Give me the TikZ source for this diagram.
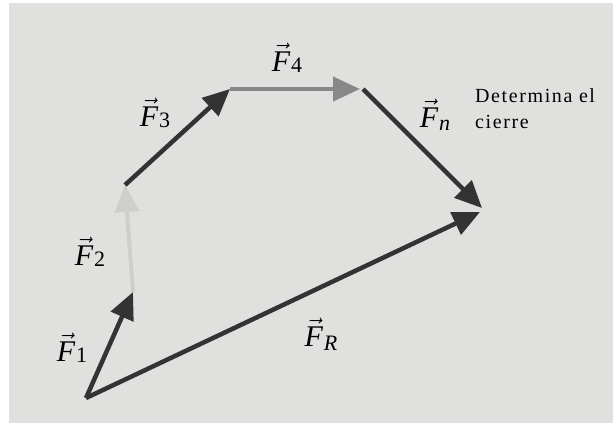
\RequirePackage{fix-cm}
\documentclass[tikz,border=0pt]{standalone}
\usepackage{fontspec}
\usepackage{amsmath}
\usetikzlibrary{arrows.meta}
\newfontfamily\notefont[LetterSpace=8]{Liberation Serif}
\newfontfamily\forcefont{Liberation Serif}
\newcommand{\fvec}[2][2pt]{$\vec{\hbox{\itshape F}}$\kern1pt
  \raisebox{-#1}{\fontsize{22}{22}\selectfont #2}}
\definecolor{panel}{RGB}{224,224,222}
\definecolor{dark}{RGB}{51,51,51}
\definecolor{mid}{RGB}{136,136,136}
\definecolor{pale}{RGB}{206,206,204}

\begin{document}
\begin{tikzpicture}[x=1pt, y=-1pt,
  force/.style={line width=4.5pt, color=dark,
    -{Triangle[length=27pt, width=24pt]}},
  flabel/.style={inner sep=0pt, font=\forcefont\fontsize{30}{32}\selectfont},
  note/.style={inner sep=0pt, align=left, anchor=base west,
    font=\notefont\fontsize{20}{26}\selectfont}]
\useasboundingbox[fill=white] (0,0) rectangle (616,425);
\fill[panel] (9,3) rectangle (613,423);
% polygon vertices
\coordinate (o) at (86,398);
\coordinate (p1) at (133,292);
\coordinate (p2) at (125,185);
\coordinate (p3) at (230,89);
\coordinate (p4) at (360,89);
\coordinate (p4s) at (363,89);
\coordinate (pn) at (482,208);
\coordinate (pr) at (480,212);
% forces
\draw[force] (o) -- (p1);
\draw[force, color=pale, line width=4pt] (p1) -- (p2);
\draw[force] (p2) -- (p3);
\draw[force, color=mid, line width=4pt] (p3) -- (p4);
\draw[force] (p4s) -- (pn);
\draw[force] (o) -- (pr);
% labels
\node[flabel] (f1) at (72,348) {\fvec[1pt]{1}};
\node[flabel] (f2) at (90,252) {\fvec[1pt]{2}};
\node[flabel] (f3) at (155,113) {\fvec[1pt]{3}};
\node[flabel] (f4) at (287,58) {\fvec[1pt]{4}};
\node[flabel] (fn) at (435,115) {\fvec[3pt]{\itshape n}};
\node[flabel] (fr) at (321,334) {\fvec[4pt]{\itshape R}};
\node[note] (cierre) at (475,129) {Determina el\\cierre};
\end{tikzpicture}
\end{document}
